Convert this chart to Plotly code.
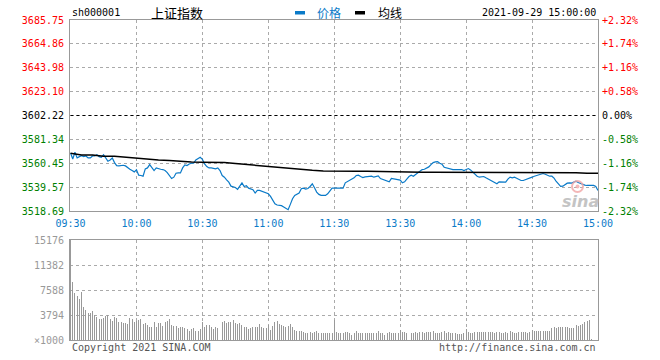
import plotly.graph_objects as go

# ---------------- data ----------------
time_labels = ["09:30", "10:00", "10:30", "11:00", "11:30", "13:30", "14:00", "14:30", "15:00"]
time_ticks = [0, 30, 60, 90, 120, 150, 180, 210, 240]
price_levels = [3518.69, 3539.57, 3560.45, 3581.34, 3602.22, 3623.10, 3643.98, 3664.86, 3685.75]
pct_labels = ["-2.32%", "-1.74%", "-1.16%", "-0.58%", "0.00%", "+0.58%", "+1.16%", "+1.74%", "+2.32%"]
prev_close = 3602.22
vol_levels = [0, 3794, 7588, 11382, 15176]
vol_labels = ["×1000", "3794", "7588", "11382", "15176"]

# price per minute, 09:30 - 11:30
price_am = [
    3569.44, 3564.22, 3570.02, 3565.09, 3566.25, 3567.12, 3566.25, 3566.83, 3565.09, 3565.09,
    3566.83, 3566.83, 3567.99, 3566.25, 3565.67, 3567.99, 3565.09, 3562.19, 3563.35, 3565.09,
    3561.03, 3558.42, 3558.13, 3558.71, 3558.71, 3558.13, 3556.39, 3555.23, 3554.07, 3552.91,
    3554.65, 3550.01, 3549.72, 3549.14, 3555.52, 3556.39, 3559.29, 3556.97, 3554.07, 3556.39,
    3555.52, 3555.23, 3554.94, 3554.07, 3552.33, 3549.72, 3547.11, 3548.27, 3551.75, 3552.04,
    3552.04, 3556.39, 3559.00, 3558.42, 3559.87, 3560.45, 3560.45, 3563.35, 3564.80, 3565.67,
    3563.93, 3559.87, 3557.55, 3556.39, 3556.39, 3556.10, 3555.52, 3556.39, 3554.07, 3549.72,
    3548.27, 3545.95, 3543.92, 3540.44, 3539.57, 3539.28, 3537.54, 3541.02, 3543.34, 3540.15,
    3540.73, 3538.70, 3538.12, 3537.25, 3534.35, 3536.67, 3536.67, 3536.09, 3534.93, 3534.35,
    3533.77, 3531.45, 3528.55, 3525.07, 3523.91, 3523.62, 3523.33, 3522.17, 3520.72, 3519.85,
    3524.49, 3529.42, 3532.32, 3533.19, 3534.35, 3538.12, 3538.70, 3537.83, 3538.41, 3540.15,
    3542.47, 3538.99, 3535.22, 3533.19, 3532.32, 3532.32, 3532.32, 3533.77, 3536.67, 3538.70,
    3538.70,
]
# price per minute, 13:01 - 15:00
price_pm = [
    3538.70, 3538.70, 3538.41, 3538.70, 3543.34, 3544.50, 3545.37, 3546.82, 3547.69, 3549.72,
    3550.01, 3548.85, 3547.98, 3548.56, 3548.56, 3548.56, 3549.14, 3548.27, 3549.14, 3549.43,
    3547.11, 3546.24, 3545.37, 3544.50, 3544.21, 3547.11, 3546.82, 3546.24, 3545.95, 3545.66,
    3543.34, 3544.21, 3546.53, 3548.85, 3550.01, 3549.14, 3550.59, 3552.33, 3554.07, 3554.94,
    3555.23, 3556.39, 3557.26, 3559.29, 3561.03, 3561.61, 3561.90, 3560.45, 3559.58, 3556.97,
    3556.39, 3556.39, 3555.23, 3554.94, 3554.94, 3554.94, 3554.94, 3554.94, 3554.07, 3554.65,
    3555.81, 3554.65, 3552.62, 3550.88, 3549.14, 3548.27, 3548.27, 3548.85, 3547.69, 3546.53,
    3545.37, 3544.50, 3543.63, 3542.47, 3544.21, 3544.21, 3543.92, 3543.92, 3546.53, 3548.27,
    3547.69, 3548.27, 3547.40, 3546.24, 3545.37, 3545.37, 3545.95, 3547.11, 3547.69, 3548.27,
    3549.14, 3549.72, 3550.30, 3550.88, 3551.46, 3550.88, 3549.72, 3549.14, 3549.14, 3547.40,
    3544.50, 3542.18, 3540.15, 3540.44, 3541.89, 3543.05, 3543.34, 3543.05, 3543.92, 3544.79,
    3543.63, 3542.76, 3541.89, 3541.31, 3541.02, 3541.02, 3541.02, 3541.02, 3540.15, 3536.67,
]
# average price line, sampled every 5 trading minutes (0 = 09:30, 240 = 15:00)
avg_minutes = [0, 5, 10, 15, 20, 25, 30, 35, 40, 45, 50, 55, 60, 65, 70, 75, 80, 85, 90, 95,
               100, 105, 110, 115, 120, 125, 130, 135, 140, 145, 150, 155, 160, 165, 170, 175,
               180, 185, 190, 195, 200, 205, 210, 215, 220, 225, 230, 235, 240]
avg_values = [3569.15, 3567.70, 3567.70, 3566.54, 3566.54, 3565.67, 3564.51, 3563.64, 3563.35,
              3562.77, 3561.90, 3561.61, 3561.32, 3561.32, 3561.03, 3560.16, 3559.29, 3558.71,
              3557.84, 3556.39, 3555.52, 3554.65, 3554.36, 3553.78, 3553.49, 3553.49, 3553.49,
              3553.49, 3553.20, 3552.91, 3552.62, 3552.62, 3552.62, 3552.62, 3552.62, 3552.62,
              3552.62, 3552.62, 3552.62, 3552.62, 3552.62, 3552.62, 3552.62, 3552.62, 3552.62,
              3552.33, 3552.04, 3551.75, 3551.75]
# volume per minute (x1000), 09:30 - 11:30
volume_am = [
    15176, 8853, 7184, 6678, 6223, 7336, 4958, 4553, 4148, 4148,
    4452, 3794, 3440, 3187, 3187, 3390, 3693, 3794, 3187, 2934,
    3440, 3288, 2782, 2782, 2631, 2530, 2428, 3288, 3137, 2782,
    2934, 3035, 3137, 2428, 2631, 2277, 2024, 2024, 2782, 1922,
    2530, 2530, 2125, 2782, 2934, 3137, 2277, 2125, 2125, 1771,
    1922, 1922, 1771, 1720, 1417, 1619, 1771, 1417, 1417, 1720,
    2681, 2024, 2277, 2277, 1922, 1619, 1922, 1872, 2024, 2782,
    2934, 2530, 2782, 2782, 3035, 2631, 2428, 2530, 2277, 2024,
    1922, 1619, 1771, 1922, 1922, 2024, 2428, 1922, 1771, 1771,
    2277, 1518, 2125, 2782, 2934, 2428, 2277, 2125, 1922, 2125,
    2428, 1922, 1518, 1417, 1417, 1366, 1265, 1012, 1012, 1265,
    1113, 1265, 1417, 1012, 1012, 1012, 1113, 1012, 1012, 1012,
    3035,
]
# volume per minute (x1000), 13:01 - 15:00
volume_pm = [
    1164, 1113, 1113, 1113, 1164, 1214, 1113, 809, 1012, 1366,
    1113, 1113, 1012, 1012, 1012, 1012, 1012, 1012, 1113, 1366,
    1113, 1012, 809, 1113, 1214, 1012, 1113, 1012, 1012, 1518,
    1214, 1164, 1113, 911, 1012, 1113, 1214, 1012, 1265, 1164,
    1113, 1214, 1164, 1214, 1417, 1012, 1012, 1113, 1164, 1366,
    1012, 1214, 1113, 1012, 1113, 860, 911, 911, 1012, 1720,
    1265, 1113, 1113, 1214, 1265, 1214, 1214, 1214, 1214, 1214,
    1164, 1214, 1012, 1214, 1265, 1012, 1113, 1214, 1113, 1366,
    1214, 1113, 1012, 1214, 1265, 1214, 1214, 1012, 1214, 1518,
    1366, 1417, 1366, 1315, 1417, 1315, 1366, 1417, 1771, 2024,
    1872, 2024, 1922, 1922, 2024, 1922, 1872, 1771, 1771, 2277,
    2125, 2277, 2428, 2782, 2934, 3035, 101, 0, 0, 0,
]

# ---------------- figure ----------------
W, H = 660, 360
MONO = "DejaVu Sans Mono"
CJK = "Noto Sans CJK SC"
BLUE = "#0a7ac8"
RED = "#ff0000"
GREEN = "#008000"
GRID = "#aaaaaa"
BORDER = "#999999"

minutes = list(range(len(price_am))) + [len(price_am) - 1 + i for i in range(1, len(price_pm) + 1)]
prices = price_am + price_pm
volumes = volume_am + volume_pm


def lvl_color(v):
    if abs(v - prev_close) < 0.01:
        return "#000000"
    return RED if v > prev_close else GREEN


left_text = [f'<span style="color:{lvl_color(v)}">{v:.2f}</span>' for v in price_levels]
right_text = [f'<span style="color:{lvl_color(v)}">{t}</span>' for v, t in zip(price_levels, pct_labels)]

fig = go.Figure()
fig.add_trace(go.Scatter(x=minutes, y=prices, mode="lines",
                         line=dict(color=BLUE, width=1.2), xaxis="x", yaxis="y",
                         hoverinfo="skip", showlegend=False))
fig.add_trace(go.Scatter(x=avg_minutes, y=avg_values, mode="lines",
                         line=dict(color="#000000", width=1.5), xaxis="x", yaxis="y",
                         hoverinfo="skip", showlegend=False))
# invisible trace to carry the right-hand percentage axis
fig.add_trace(go.Scatter(x=[minutes[0]], y=[prices[0]], mode="markers",
                         marker=dict(opacity=0), xaxis="x", yaxis="y3",
                         hoverinfo="skip", showlegend=False))
fig.add_trace(go.Bar(x=minutes, y=volumes, width=0.45, marker=dict(color="#999999", line_width=0),
                     xaxis="x2", yaxis="y2", hoverinfo="skip", showlegend=False))

x0, x1 = 70 / W, 598 / W
top_dom = [1 - 211 / H, 1 - 20 / H]
vol_dom = [1 - 340 / H, 1 - 240 / H]

common_x = dict(range=[-0.25, 240], tickvals=time_ticks, showgrid=True, gridcolor=GRID,
                griddash="dot", gridwidth=1, showline=True, linecolor=BORDER, linewidth=1,
                mirror=True, zeroline=False, ticks="", fixedrange=True, automargin=False)

fig.update_layout(
    width=W, height=H, margin=dict(l=0, r=0, t=0, b=0, autoexpand=False),
    paper_bgcolor="white", plot_bgcolor="white",
    bargap=0,
    xaxis=dict(domain=[x0, x1], anchor="y", ticktext=time_labels, ticklabelstandoff=3,
               tickfont=dict(family=MONO, size=10, color=BLUE), **common_x),
    yaxis=dict(domain=top_dom, range=[price_levels[0], price_levels[-1]], tickvals=price_levels,
               ticktext=left_text, tickfont=dict(family=MONO, size=10, color="#000"),
               ticklabelstandoff=3,
               showgrid=True, gridcolor=GRID, griddash="dot", showline=True, linecolor=BORDER,
               mirror=True, zeroline=False, ticks="", fixedrange=True, automargin=False),
    yaxis3=dict(overlaying="y", side="right", anchor="x", range=[price_levels[0], price_levels[-1]],
                tickvals=price_levels, ticktext=right_text, ticklabelstandoff=3,
                tickfont=dict(family=MONO, size=10, color="#000"),
                showgrid=False, zeroline=False, showline=False, ticks="", fixedrange=True,
                automargin=False),
    xaxis2=dict(domain=[x0, x1], anchor="y2", showticklabels=False, **common_x),
    yaxis2=dict(domain=vol_dom, range=[vol_levels[0], vol_levels[-1]], tickvals=vol_levels,
                ticktext=vol_labels, tickfont=dict(family=MONO, size=10, color="#999999"),
                ticklabelstandoff=3,
                showgrid=True, gridcolor=GRID, griddash="dot", showline=True, linecolor=BORDER,
                mirror=True, zeroline=False, ticks="", fixedrange=True, automargin=False),
)

# previous close dashed line
fig.add_shape(type="line", xref="x", yref="y", x0=0, x1=240, y0=prev_close, y1=prev_close,
              line=dict(color="#000000", width=1, dash="3px,3px"))


def px(x):
    return x / W


def py(y):
    return 1 - y / H


ann = []
ann.append(dict(x=px(70), y=py(13), text="sh000001", xanchor="left", yanchor="middle",
                font=dict(family=MONO, size=10, color="#000")))
ann.append(dict(x=px(177), y=py(13), text="上证指数", xanchor="center", yanchor="middle",
                font=dict(family=CJK, size=13, color="#000")))
ann.append(dict(x=px(315), y=py(13), text="价格", xanchor="left", yanchor="middle",
                font=dict(family=CJK, size=12, color=BLUE)))
ann.append(dict(x=px(376), y=py(13), text="均线", xanchor="left", yanchor="middle",
                font=dict(family=CJK, size=12, color="#000")))
ann.append(dict(x=px(598), y=py(13), text="2021-09-29 15:00:00", xanchor="right", yanchor="middle",
                font=dict(family=MONO, size=10, color="#000")))
ann.append(dict(x=px(70), y=py(347), text="Copyright 2021 SINA.COM", xanchor="left", yanchor="middle",
                font=dict(family=MONO, size=10, color="#555555")))
ann.append(dict(x=px(598), y=py(347), text="http://finance.sina.com.cn", xanchor="right",
                yanchor="middle", font=dict(family=MONO, size=10, color="#555555")))
ann.append(dict(x=px(580), y=py(201), text="<b><i>sina</i></b>", xanchor="center", yanchor="middle",
                font=dict(family="DejaVu Sans", size=16, color="#c4c4c4")))
for a in ann:
    a.update(xref="paper", yref="paper", showarrow=False)
fig.update_layout(annotations=ann)

# legend markers
fig.add_shape(type="rect", xref="paper", yref="paper", x0=px(295), x1=px(305), y0=py(14.5), y1=py(11),
              fillcolor=BLUE, line_width=0)
fig.add_shape(type="rect", xref="paper", yref="paper", x0=px(355), x1=px(365), y0=py(14.5), y1=py(11),
              fillcolor="#000000", line_width=0)
# sina eye logo
fig.add_shape(type="circle", xref="paper", yref="paper", x0=px(572), x1=px(583), y0=py(192), y1=py(181),
              line=dict(color="#f2a6a6", width=2), fillcolor="rgba(0,0,0,0)", opacity=0.8)
fig.add_shape(type="circle", xref="paper", yref="paper", x0=px(575.5), x1=px(579.5), y0=py(188.5),
              y1=py(184.5), line_width=0, fillcolor="#f2a6a6", opacity=0.8)

fig.write_html(
    "out.html",
    config={"displayModeBar": False, "staticPlot": True},
    post_script="document.body.style.margin='0';document.body.style.overflow='hidden';",
)
